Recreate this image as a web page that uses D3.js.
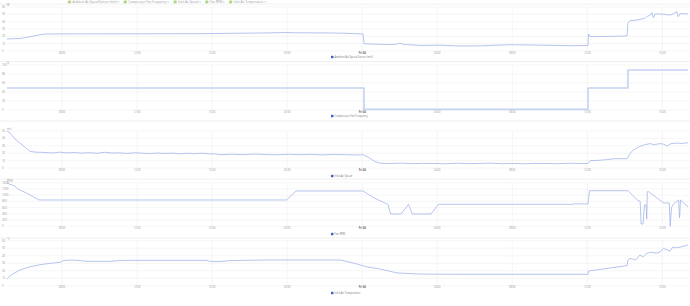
<!DOCTYPE html>
<html><head><meta charset="utf-8">
<script src="https://cdn.jsdelivr.net/npm/d3@7"></script>
<style>body{margin:0;background:#fff}svg{display:block}text{font-family:"Open Sans","DejaVu Sans",sans-serif}</style>
</head><body><svg id="c" width="690" height="306"></svg>
<script>
// ---------- DATA ----------
const startTime = new Date(2023, 7, 3, 5, 4);
const durationHours = 36.3;
const legendLabels = ["Ambient Air Speed Sensor (m/s)", "Compressor Fan Frequency", "Inlet Air Speed", "Fan RPM", "Inlet Air Temperature"];
const seriesNames = ["Ambient Air Speed Sensor (m/s)", "Compressor Fan Frequency", "Inlet Air Speed", "Fan RPM", "Inlet Air Temperature"];
const unitLabels = ["W", "%", "m/s", "RPM", "°C"];
const yTicks1 = [0, 10, 20, 30, 40, 50, 60];
const yTicks2 = [0, 20, 40, 60, 80, 100];
const yTicks3 = [0, 10, 20, 30, 40, 50];
const yTicks4 = [0, 200, 400, 600, 800, 1000, 1200, 1400];
const yTicks5 = [0, 10, 20, 30, 40, 50, 60];

const s1Hours = [0,0.4,0.7,1.0,1.23,1.5,1.76,2.03,2.83,4.96,7.62,10.29,11.89,13.49,14.5,14.98,15.3,15.62,17.22,18.0,18.55,18.98,19.03,19.35,20.42,20.7,20.95,21.15,22.01,23.08,24.15,25.21,26.81,28.41,30.01,30.81,30.97,31.0,31.08,31.61,33.05,33.1,33.21,33.5,33.74,34.0,34.1,34.28,34.38,34.45,34.55,34.81,35.0,35.34,35.5,35.7,35.78,35.87,36.3];
const s1Values = [16.4,16.8,17.0,18.3,19.5,20.8,22.2,23.2,23.3,23.4,23.5,23.6,24.1,24.5,25.0,25.2,24.9,24.8,24.6,24.2,23.6,23.2,10.0,9.5,8.8,9.0,10.8,9.0,7.6,7.9,6.8,7.0,8.6,8.0,7.2,7.5,7.6,23.2,19.8,19.6,20.5,37.8,41.3,42.0,43.2,44.5,46.8,49.0,52.2,45.5,50.5,50.5,50.0,49.0,50.5,53.6,46.8,51.0,50.5];

const s2Hours = [0, 19.03, 30.97, 33.1, 36.3];
const s2Values = [49, 1.5, 49, 89, 89];

const s3Hours = [0,0.16,0.43,0.69,0.96,1.23,1.49,1.8,2.03,2.4,2.8,3.2,3.6,4.0,4.4,4.8,5.2,5.6,6.0,6.4,6.8,7.2,7.6,8.0,8.4,8.8,9.2,9.6,10.0,10.4,10.8,11.1,11.35,12.0,12.6,13.2,13.8,14.4,15.0,15.6,16.2,16.8,17.4,18.0,18.6,18.98,19.3,19.6,19.88,20.4,21.0,21.6,22.2,22.8,23.4,24.0,24.6,25.2,25.8,26.4,27.0,27.6,28.2,28.8,29.4,30.0,30.6,30.97,31.08,31.61,32.0,32.41,33.05,33.3,33.5,33.74,34.0,34.28,34.5,34.81,35.0,35.2,35.4,35.7,36.0,36.3];
const s3Values = [50,47.3,39,33.8,28,22.5,21.5,21.2,20.9,20.3,21.4,20.4,20.9,20.1,20.7,19.8,21.2,20.2,20.5,19.6,20.6,20.0,19.4,20.3,19.6,20.1,19.2,19.9,19.4,20.0,19.1,19.0,18.0,18.6,18.1,18.9,18.2,17.8,18.5,18.0,18.4,17.7,18.3,18.0,17.6,17.9,14.0,9.0,6.5,6.0,6.6,5.8,6.3,6.1,5.7,6.4,5.9,6.2,6.6,5.8,6.1,5.7,6.3,6.0,5.8,6.4,6.1,6.0,9.9,10.5,11.4,12.6,12.6,22.5,26.0,29.3,31.5,32.9,31.6,33.0,32.2,29.7,33.0,33.6,33.2,34.2];

const s4Hours = [0,0.16,0.43,0.53,0.69,0.96,1.23,1.49,1.71,14.9,15.4,18.98,19.6,20.3,20.45,20.6,21.0,21.4,21.6,22.2,22.6,23.0,23.3,24.15,30.15,30.2,30.97,31.05,33.1,33.6,33.75,33.8,33.9,33.98,34.07,34.1,34.13,34.2,35.0,35.3,35.35,35.42,35.5,35.8,35.85,35.9,36.3];
const s4Values = [1390,1348,1294,1220,1165,1092,1005,918,845,845,1133,1133,900,706,395,395,395,706,395,395,395,706,706,706,706,720,720,1143,1143,845,800,74,74,684,684,234,1111,1111,748,748,0,600,700,845,266,845,620];

const s5Hours = [0,0.16,0.43,0.69,1.23,1.76,2.29,2.83,3.0,3.25,3.6,4.32,5.49,6.18,10.66,10.8,11.35,11.89,14.0,17.75,18.5,19.2,19.88,20.8,22.0,24.15,30.97,31.0,33.05,33.1,33.2,33.5,33.74,33.9,34.1,34.3,34.6,34.81,35.0,35.34,35.5,35.6,35.9,36.3];
const s5Values = [8.9,13.3,17.3,21,25.3,28,29.8,31.2,33.5,34.0,34.0,32.5,32.5,33.8,33.8,32.5,32.2,33.5,34.3,34.3,30.0,25.0,22.3,17.0,15.5,15.2,15.2,19.6,26.7,34.3,36.5,34.3,41.0,38.5,43.2,44.5,43.5,44.8,49.8,46.0,52.0,50.5,51.5,54.3];

// ---------- LAYOUT ----------
const W = 690, H = 306, x0 = 7, x1 = 688;
const panels = [
  {sep: 4, top: 7, bottom: 51, ticks: yTicks1, hours: s1Hours, values: s1Values, name: seriesNames[0], unit: unitLabels[0], legendY: 57, width: 0.8, color: "#a3b6ec", curve: d3.curveLinear},
  {sep: 61.5, top: 65, bottom: 110, ticks: yTicks2, hours: s2Hours, values: s2Values, name: seriesNames[1], unit: unitLabels[1], legendY: 116, width: 1.6, color: "#c6d2f3", curve: d3.curveStepAfter},
  {sep: 121, top: 131, bottom: 168, ticks: yTicks3, hours: s3Hours, values: s3Values, name: seriesNames[2], unit: unitLabels[2], legendY: 176, width: 0.8, color: "#a3b6ec", curve: d3.curveLinear},
  {sep: 179, top: 182.7, bottom: 226.3, ticks: yTicks4, hours: s4Hours, values: s4Values, name: seriesNames[3], unit: unitLabels[3], legendY: 234, width: 0.8, color: "#a3b6ec", curve: d3.curveLinear},
  {sep: 238, top: 240.7, bottom: 285.7, ticks: yTicks5, hours: s5Hours, values: s5Values, name: seriesNames[4], unit: unitLabels[4], legendY: 293, width: 0.8, color: "#a3b6ec", curve: d3.curveLinear}
];

const svg = d3.select("#c");
svg.append("rect").attr("width", W).attr("height", H).attr("fill", "#fff");

const endTime = new Date(startTime.getTime() + durationHours * 3600e3);
const x = d3.scaleTime().domain([startTime, endTime]).range([x0, x1]);
const timeTicks = x.ticks(d3.timeHour.every(4));
const fmt = d => d.getHours() === 0 ? d3.timeFormat("%a %d")(d) : d3.timeFormat("%H:%M")(d);
const toDate = h => new Date(startTime.getTime() + h * 3600e3);

// top legend
const leg = svg.append("g").attr("transform", "translate(68,1.5)");
let lx = 0;
legendLabels.forEach((l) => {
  const g = leg.append("g").attr("transform", `translate(${lx},0)`);
  g.append("circle").attr("cx", 1.5).attr("cy", 0.5).attr("r", 1.8).attr("fill", "#b5d58a");
  const t = g.append("text").attr("x", 4.5).attr("y", 1.6).attr("font-size", 3).attr("fill", "#9a9a9a").text(l + "  ×");
  lx += t.node().getComputedTextLength() + 9;
});

panels.forEach((p) => {
  const g = svg.append("g");
  const dom = d3.extent(p.ticks);
  const y = d3.scaleLinear().domain(dom).range([p.bottom, p.top]);
  g.append("line").attr("x1", 0).attr("x2", W).attr("y1", p.sep).attr("y2", p.sep).attr("stroke", "#ececec").attr("stroke-width", 0.8);
  g.selectAll(".hg").data(p.ticks).join("line")
    .attr("x1", x0).attr("x2", x1 + 2).attr("y1", d => y(d)).attr("y2", d => y(d))
    .attr("stroke", "#f0f0f0").attr("stroke-width", 0.6);
  g.selectAll(".vg").data(timeTicks).join("line")
    .attr("x1", d => x(d)).attr("x2", d => x(d)).attr("y1", p.top).attr("y2", p.bottom)
    .attr("stroke", "#eeeeee").attr("stroke-width", 0.6);
  g.selectAll(".yl").data(p.ticks).join("text")
    .attr("x", 2).attr("y", d => y(d) + 1).attr("font-size", 2.8).attr("fill", "#999").text(d => d);
  g.append("text").attr("x", x0).attr("y", p.top - 1.2).attr("font-size", 2.6).attr("fill", "#999").text(p.unit);
  g.selectAll(".xl").data(timeTicks).join("text")
    .attr("x", d => x(d)).attr("y", p.bottom + 2.6).attr("text-anchor", "middle")
    .attr("font-size", 2.6).attr("fill", d => d.getHours() === 0 ? "#666" : "#999")
    .attr("font-weight", d => d.getHours() === 0 ? "bold" : "normal").text(fmt);
  const pts = p.hours.map((h, i) => [toDate(h), p.values[i]]);
  const line = d3.line().x(d => x(d[0])).y(d => y(d[1])).curve(p.curve);
  g.append("path").attr("d", line(pts)).attr("fill", "none").attr("stroke", p.color).attr("stroke-width", p.width).attr("stroke-linejoin", "round");
  const lg = g.append("g").attr("transform", `translate(331,${p.legendY})`);
  lg.append("rect").attr("x", 0).attr("y", -1.2).attr("width", 2.4).attr("height", 2.4).attr("rx", 0.5).attr("fill", "#3b5bd0");
  lg.append("text").attr("x", 3.6).attr("y", 1).attr("font-size", 2.6).attr("fill", "#777").text(p.name);
});
</script>
</body></html>
